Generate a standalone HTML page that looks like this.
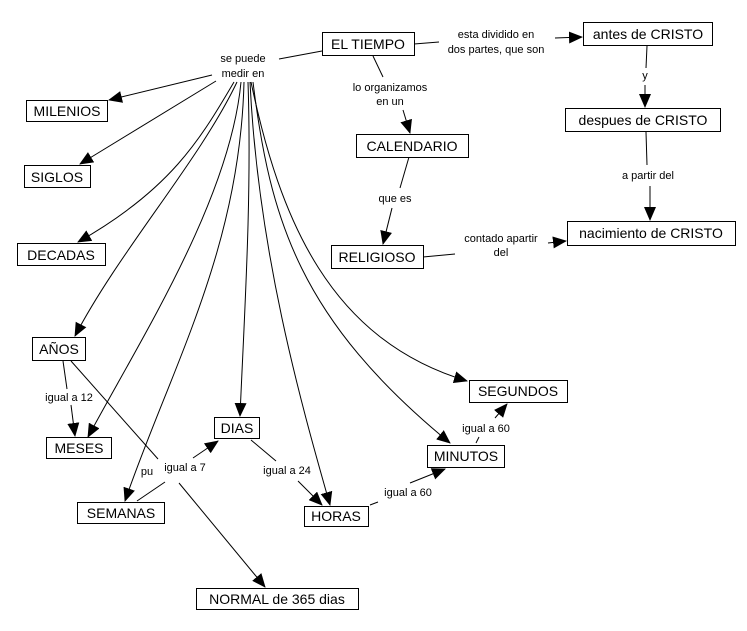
<!DOCTYPE html>
<html><head><meta charset="utf-8"><style>
body{margin:0;background:#fff}
svg{display:block}
text{font-family:"Liberation Sans",sans-serif;fill:#000}
.n{font-size:14px}
.l{font-size:11px}
rect{fill:#fff;stroke:#000;stroke-width:1}
path,line{stroke:#000;stroke-width:1;fill:none}
</style></head><body>
<svg width="747" height="631" viewBox="0 0 747 631">
<defs><marker id="a" markerWidth="14" markerHeight="12" refX="13" refY="6" orient="auto" markerUnits="userSpaceOnUse"><path d="M0,0 L14,6 L0,12 z" style="fill:#000;stroke:none"/></marker></defs>

<!-- EL TIEMPO connections -->
<line x1="322" y1="51" x2="279" y2="59"/>
<line x1="414" y1="44" x2="439" y2="42"/>
<line x1="555" y1="38" x2="582" y2="37" marker-end="url(#a)"/>
<line x1="373" y1="56" x2="383" y2="77"/>
<line x1="403" y1="110" x2="410" y2="133" marker-end="url(#a)"/>
<line x1="409" y1="157" x2="400" y2="188"/>
<line x1="392" y1="208" x2="383" y2="244" marker-end="url(#a)"/>
<line x1="423" y1="257" x2="455" y2="254"/>
<line x1="548" y1="243" x2="566" y2="241" marker-end="url(#a)"/>
<line x1="647" y1="46" x2="646" y2="68"/>
<line x1="645" y1="85" x2="645" y2="107" marker-end="url(#a)"/>
<line x1="646" y1="132" x2="647" y2="165"/>
<line x1="650" y1="186" x2="650" y2="220" marker-end="url(#a)"/>

<!-- se puede medir en -->
<line x1="212" y1="75" x2="109" y2="100" marker-end="url(#a)"/>
<line x1="216" y1="81" x2="80" y2="164" marker-end="url(#a)"/>
<path d="M234,82 C200,140 170,190 78,242" marker-end="url(#a)"/>
<path d="M237,82 C200,160 120,250 75,336" marker-end="url(#a)"/>
<path d="M241,82 C230,200 140,340 88,437" marker-end="url(#a)"/>
<path d="M244,82 C240,250 170,370 125,501" marker-end="url(#a)"/>
<path d="M248,82 C252,200 244,320 240,416" marker-end="url(#a)"/>
<path d="M250,82 C258,250 300,400 330,505" marker-end="url(#a)"/>
<path d="M253,82 C270,220 300,320 450,443" marker-end="url(#a)"/>
<path d="M251,82 C280,220 330,340 467,381" marker-end="url(#a)"/>

<!-- AÑOS -->
<line x1="63" y1="361" x2="67" y2="389"/>
<line x1="71" y1="405" x2="75" y2="436" marker-end="url(#a)"/>
<line x1="71" y1="361" x2="158" y2="459"/>
<line x1="179" y1="483" x2="265" y2="587" marker-end="url(#a)"/>
<line x1="137" y1="501" x2="165" y2="482"/>
<line x1="193" y1="458" x2="218" y2="441" marker-end="url(#a)"/>
<line x1="251" y1="440" x2="276" y2="461"/>
<line x1="298" y1="481" x2="322" y2="505" marker-end="url(#a)"/>
<line x1="370" y1="505" x2="378" y2="502"/>
<line x1="410" y1="483" x2="445" y2="469" marker-end="url(#a)"/>
<line x1="476" y1="443" x2="479" y2="437"/>
<line x1="495" y1="418" x2="507" y2="404" marker-end="url(#a)"/>

<!-- nodes -->
<rect x="322.5" y="32.5" width="92" height="23"/><text class="n" x="368" y="49" text-anchor="middle">EL TIEMPO</text>
<rect x="583.5" y="22.5" width="129" height="23"/><text class="n" x="648" y="39" text-anchor="middle">antes de CRISTO</text>
<rect x="565.5" y="108.5" width="155" height="23"/><text class="n" x="643" y="125" text-anchor="middle">despues de CRISTO</text>
<rect x="567.5" y="221.5" width="168" height="24"/><text class="n" x="651" y="238" text-anchor="middle">nacimiento de CRISTO</text>
<rect x="356.5" y="134.5" width="112" height="23"/><text class="n" x="412" y="151" text-anchor="middle">CALENDARIO</text>
<rect x="331.5" y="245.5" width="92" height="23"/><text class="n" x="377" y="262" text-anchor="middle">RELIGIOSO</text>
<rect x="26.5" y="100.5" width="81" height="21"/><text class="n" x="67" y="116" text-anchor="middle">MILENIOS</text>
<rect x="24.5" y="165.5" width="66" height="22"/><text class="n" x="57" y="182" text-anchor="middle">SIGLOS</text>
<rect x="17.5" y="243.5" width="88" height="22"/><text class="n" x="61" y="260" text-anchor="middle">DECADAS</text>
<rect x="32.5" y="337.5" width="53" height="23"/><text class="n" x="59" y="354" text-anchor="middle">AÑOS</text>
<rect x="46.5" y="437.5" width="65" height="21"/><text class="n" x="79" y="453" text-anchor="middle">MESES</text>
<rect x="77.5" y="502.5" width="87" height="21"/><text class="n" x="121" y="518" text-anchor="middle">SEMANAS</text>
<rect x="214.5" y="417.5" width="45" height="21"/><text class="n" x="237" y="433" text-anchor="middle">DIAS</text>
<rect x="304.5" y="506.5" width="64" height="20"/><text class="n" x="336" y="521" text-anchor="middle">HORAS</text>
<rect x="427.5" y="445.5" width="77" height="22"/><text class="n" x="466" y="461" text-anchor="middle">MINUTOS</text>
<rect x="469.5" y="380.5" width="98" height="22"/><text class="n" x="518" y="396" text-anchor="middle">SEGUNDOS</text>
<rect x="196.5" y="588.5" width="162" height="21"/><text class="n" x="277" y="604" text-anchor="middle">NORMAL de 365 dias</text>

<!-- labels -->
<text class="l" x="243" y="62" text-anchor="middle">se puede</text>
<text class="l" x="243" y="77" text-anchor="middle">medir en</text>
<text class="l" x="496" y="38" text-anchor="middle">esta dividido en</text>
<text class="l" x="496" y="53" text-anchor="middle">dos partes, que son</text>
<text class="l" x="390" y="91" text-anchor="middle">lo organizamos</text>
<text class="l" x="390" y="105" text-anchor="middle">en un</text>
<text class="l" x="395" y="202" text-anchor="middle">que es</text>
<text class="l" x="645" y="79" text-anchor="middle">y</text>
<text class="l" x="648" y="179" text-anchor="middle">a partir del</text>
<text class="l" x="501" y="242" text-anchor="middle">contado apartir</text>
<text class="l" x="501" y="256" text-anchor="middle">del</text>
<text class="l" x="69" y="401" text-anchor="middle">igual a 12</text>
<text class="l" x="147" y="475" text-anchor="middle">pu</text>
<text class="l" x="185" y="471" text-anchor="middle">igual a 7</text>
<text class="l" x="287" y="474" text-anchor="middle">igual a 24</text>
<text class="l" x="408" y="496" text-anchor="middle">igual a 60</text>
<text class="l" x="486" y="432" text-anchor="middle">igual a 60</text>
</svg>
</body></html>
